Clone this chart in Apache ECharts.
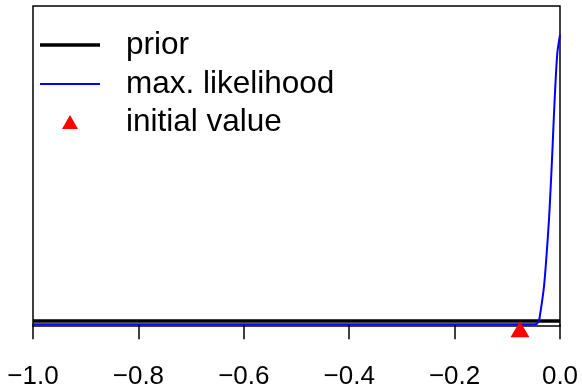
<!DOCTYPE html>
<html>
<head>
<meta charset="utf-8">
<script src="https://cdn.jsdelivr.net/npm/echarts@6/dist/echarts.min.js"></script>
<style>
html,body{margin:0;padding:0;background:#fff;}
#chart{width:582px;height:390px;}
</style>
</head>
<body>
<div id="chart"></div>
<script>
// x tick values and their labels
var xTicks = [-1.0, -0.8, -0.6, -0.4, -0.2, 0.0];
var xTickLabels = ['\u22121.0', '\u22120.8', '\u22120.6', '\u22120.4', '\u22120.2', '0.0'];

// prior density (flat)
var priorX = [-1.0, 0.0];
var priorY = [0.33, 0.33];

// max. likelihood curve
var mlX = [-1.0, -0.0474, -0.0436, -0.0411, -0.0392, -0.0303, -0.0252, -0.0209, -0.0176, -0.0146, -0.0119, -0.0089, -0.0051, 0.0];
var mlY = [0.0, 0.0, 0.07, 0.25, 0.5, 3.83, 7.17, 10.5, 13.83, 17.17, 20.5, 23.83, 27.17, 29.0];

// initial value marker
var initX = [-0.076];
var initY = [-0.5];

var seriesNames = ['prior', 'max. likelihood', 'initial value'];

function zip(a, b) { return a.map(function (v, i) { return [v, b[i]]; }); }

var chart = echarts.init(document.getElementById('chart'), null, {renderer: 'canvas'});
var font = 'Liberation Sans, Arial, Helvetica, sans-serif';

var legendBase = {
  orient: 'horizontal',
  padding: 0,
  itemStyle: {borderWidth: 0, opacity: 1},
  textStyle: {color: '#000', fontSize: 31.5, fontFamily: font, lineHeight: 30},
  selectedMode: false
};

chart.setOption({
  animation: false,
  backgroundColor: '#ffffff',
  grid: {
    left: 33, right: 22, top: 6, bottom: 63,
    show: true, borderColor: '#000', borderWidth: 1.5, backgroundColor: 'transparent'
  },
  legend: [
    Object.assign({}, legendBase, {
      data: [seriesNames[0]], left: 40, top: 29, icon: 'rect', itemWidth: 60, itemHeight: 3.5,
      textStyle: Object.assign({}, legendBase.textStyle, {padding: [0, 0, 0, 21]})
    }),
    Object.assign({}, legendBase, {
      data: [seriesNames[1]], left: 40, top: 68, icon: 'rect', itemWidth: 60, itemHeight: 1.8,
      textStyle: Object.assign({}, legendBase.textStyle, {padding: [0, 0, 0, 21]})
    }),
    Object.assign({}, legendBase, {
      data: [seriesNames[2]], left: 62, top: 106, icon: 'triangle', itemWidth: 16, itemHeight: 14,
      textStyle: Object.assign({}, legendBase.textStyle, {padding: [0, 0, 0, 43]})
    })
  ],
  xAxis: {
    type: 'value', min: -1.0, max: 0.0, interval: 0.2,
    axisLine: {show: false},
    axisTick: {show: true, length: 15, inside: false, lineStyle: {color: '#000', width: 1.5}},
    axisLabel: {
      margin: 38, color: '#000', fontSize: 26, fontFamily: font,
      formatter: function (v) {
        for (var i = 0; i < xTicks.length; i++) {
          if (Math.abs(v - xTicks[i]) < 1e-9) return xTickLabels[i];
        }
        return '';
      }
    },
    splitLine: {show: false}
  },
  yAxis: {
    type: 'value', min: -0.17, max: 31.9,
    axisLine: {show: false}, axisTick: {show: false}, axisLabel: {show: false}, splitLine: {show: false}
  },
  series: [
    {
      name: seriesNames[0], type: 'line', data: zip(priorX, priorY), showSymbol: false, symbol: 'none',
      color: '#000', lineStyle: {color: '#000', width: 3.5}, z: 3
    },
    {
      name: seriesNames[1], type: 'line', data: zip(mlX, mlY), showSymbol: false, symbol: 'none',
      smooth: 0.25, color: '#0000ff', lineStyle: {color: '#0000ff', width: 2}, z: 4
    },
    {
      name: seriesNames[2], type: 'scatter', data: zip(initX, initY), symbol: 'triangle',
      symbolSize: [19, 16], clip: false, color: '#ff0000',
      itemStyle: {color: '#ff0000', opacity: 1}, z: 5
    }
  ]
});
</script>
</body>
</html>
